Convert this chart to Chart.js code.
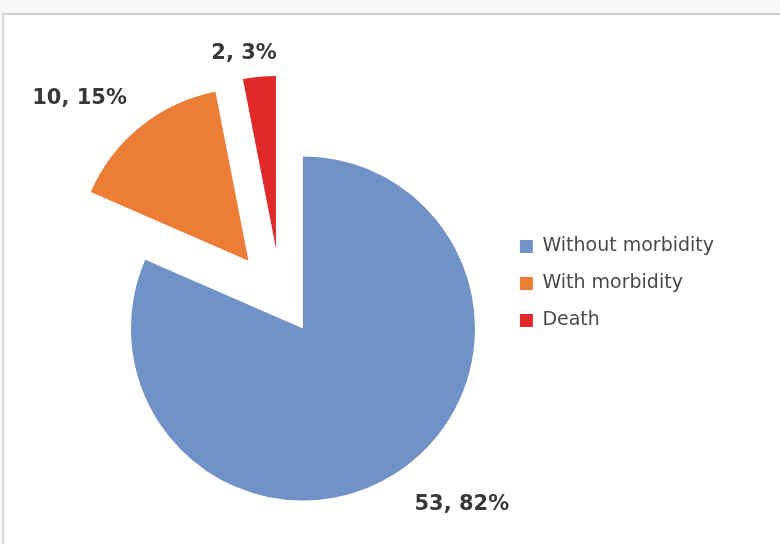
<!DOCTYPE html>
<html>
<head>
<meta charset="utf-8">
<script src="https://cdn.jsdelivr.net/npm/chart.js@4"></script>
<style>
  html, body { margin: 0; padding: 0; background: #f8f8f8; overflow: hidden; }
  #frame {
    position: absolute; left: 2px; top: 13px; width: 800px; height: 560px;
    background: #fff; border-top: 2px solid #cfcfcf; border-left: 2px solid #d6d6d6;
  }
  #chart { position: absolute; left: 0; top: 0; }
</style>
</head>
<body>
<div id="frame"></div>
<canvas id="chart" width="780" height="544"></canvas>
<script>
"use strict";

const LABELS = ["Without morbidity", "With morbidity", "Death"];
const COUNTS = [53, 10, 2];

const COLOURS = ["#7092c6", "#eb7d37", "#e2292a"];
const EXPLODE = [0, 87, 85];        // px each slice is pulled out
const EXPLODE_TURN = [0, 0, -13];   // deg, tweak of the pull direction
const LABEL_GAP = [26, 22, 13];     // px between slice edge and its label
const LABEL_NUDGE_X = [3, 0, -14];
const RADIUS = 172;

const total = COUNTS.reduce((a, b) => a + b, 0);
const pct = (v) => Math.round((v / total) * 100);

function explodeVector(arc, i) {
  const mid = (arc.startAngle + arc.endAngle) / 2 + EXPLODE_TURN[i] * Math.PI / 180;
  return { dx: Math.cos(mid) * EXPLODE[i], dy: Math.sin(mid) * EXPLODE[i] };
}

// Chart.js' own `offset` also grows the radius, so pull slices out by hand.
const explodePlugin = {
  id: "explode",
  beforeDatasetDraw(chart, args) {
    const ctx = chart.ctx;
    args.meta.data.forEach((arc, i) => {
      const { dx, dy } = explodeVector(arc, i);
      ctx.save();
      ctx.translate(dx, dy);
      arc.draw(ctx);
      ctx.restore();
    });
    return false;
  },
};

const labelPlugin = {
  id: "sliceLabels",
  afterDatasetsDraw(chart) {
    const ctx = chart.ctx;
    const meta = chart.getDatasetMeta(0);
    ctx.save();
    ctx.font = "bold 21px 'DejaVu Sans'";
    ctx.fillStyle = "#383838";
    meta.data.forEach((arc, i) => {
      const { dx, dy } = explodeVector(arc, i);
      const mid = (arc.startAngle + arc.endAngle) / 2;
      const cx = Math.cos(mid);
      const cy = Math.sin(mid);
      const r = arc.outerRadius + LABEL_GAP[i];
      ctx.textAlign = cx > 0.25 ? "left" : cx < -0.25 ? "right" : "center";
      ctx.textBaseline = cy > 0 ? "top" : "bottom";
      ctx.fillText(`${COUNTS[i]}, ${pct(COUNTS[i])}%`,
        arc.x + dx + cx * r + LABEL_NUDGE_X[i], arc.y + dy + cy * r);
    });
    ctx.restore();
  },
};

new Chart(document.getElementById("chart"), {
  type: "pie",
  data: {
    labels: LABELS,
    datasets: [{ data: COUNTS, backgroundColor: COLOURS, borderWidth: 0, radius: RADIUS }],
  },
  options: {
    responsive: false,
    animation: false,
    layout: { padding: { top: 219, bottom: 106, left: 104, right: 56 } },
    plugins: {
      legend: {
        position: "right",
        align: "start",
        labels: {
          boxWidth: 13, boxHeight: 13, padding: 18, color: "#4a4a4a",
          font: { family: "'DejaVu Sans'", size: 19 },
        },
      },
      tooltip: { enabled: false },
    },
  },
  plugins: [explodePlugin, labelPlugin],
});
</script>
</body>
</html>
